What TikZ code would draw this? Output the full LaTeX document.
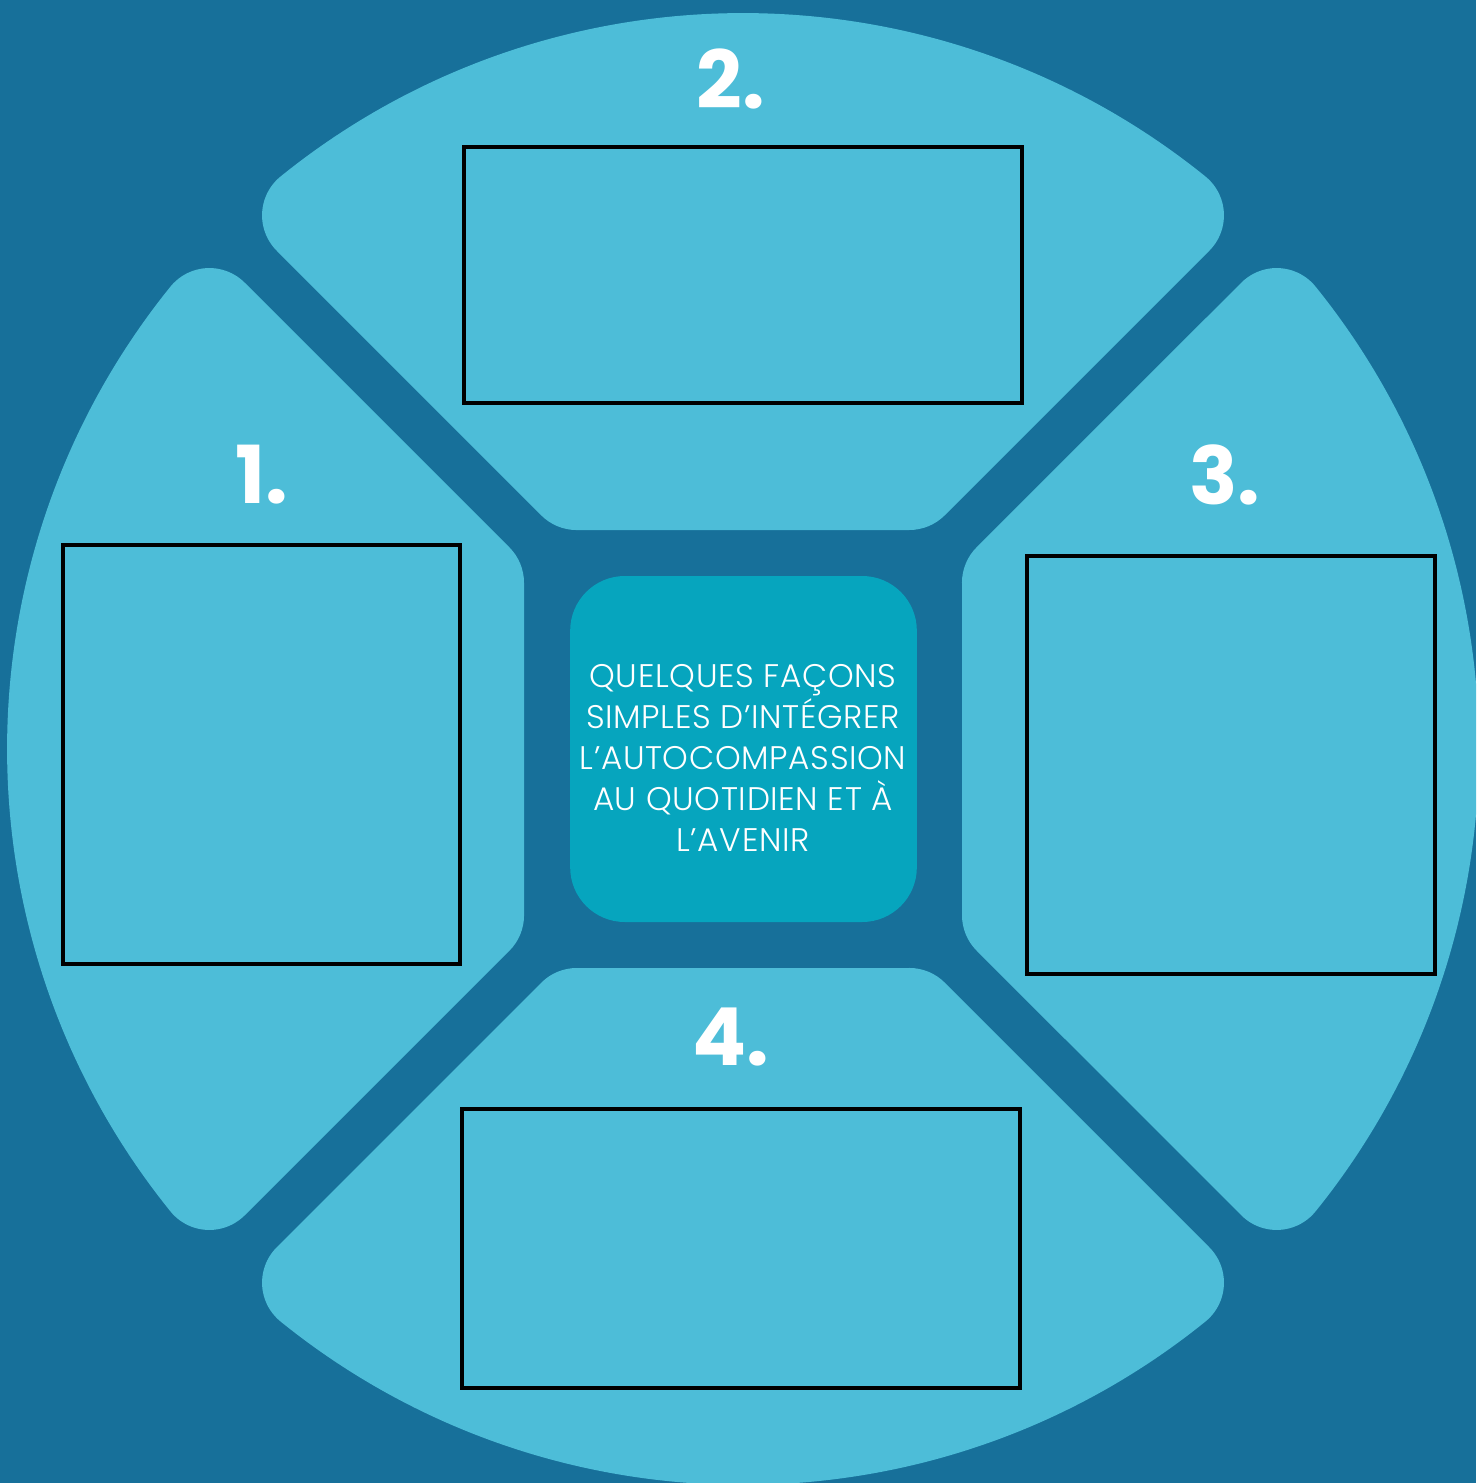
\documentclass[tikz,border=0pt]{standalone}
\usepackage{fontspec}
\setmainfont{Poppins}
\newfontfamily\hubfont{Poppins}[UprightFont=* Light,LetterSpace=2]
\definecolor{bgblue}{RGB}{23,112,154}
\definecolor{petalblue}{RGB}{77,189,216}
\definecolor{hubblue}{RGB}{6,165,190}

\begin{document}
\begin{tikzpicture}[x=0.75pt,y=0.75pt,yscale=-1,xscale=1,
  petal/.style={fill=petalblue},
  slot/.style={draw=black,line width=3pt,inner sep=0pt},
  num/.style={text=white,inner sep=0pt,font=\fontsize{60}{60}\selectfont\bfseries}]

\useasboundingbox (0,0) rectangle (1476,1483);
\fill[bgblue] (0,0) rectangle (1476,1483);
\clip (0,0) rectangle (1476,1483);

%Petals: one quarter of the disc, turned four times
\foreach \ang in {0,90,180,270}{
\begin{scope}[shift={(743,749)},yscale=-1,rotate=\ang]
\fill[petal] (-166.3,219) -- (166.3,219) arc[start angle=-90,end angle=-45,radius=50]
  -- (466.3,498.3) arc[start angle=-45,end angle=51.08,radius=50]
  arc[start angle=51.08,end angle=128.92,radius=736]
  arc[start angle=128.92,end angle=225,radius=50]
  -- (-201.7,233.6) arc[start angle=225,end angle=270,radius=50] -- cycle;
\end{scope}
}

%Centre square
\node[fill=hubblue,rounded corners=41pt,minimum width=260pt,minimum height=259.5pt] (hub) at (743.5,749) {};
% Text Node
\node[text=white,align=center,inner sep=0pt,font=\hubfont\fontsize{24.5}{30.75}\selectfont] (hubtext) at (743,758) {QUELQUES FAÇONS\\SIMPLES D’INTÉGRER\\L’AUTOCOMPASSION\\AU QUOTIDIEN ET À\\L’AVENIR};

%Empty boxes
\node[slot,minimum width=418.5pt,minimum height=192pt] (box2) at (743,275) {};
\node[slot,minimum width=297.75pt,minimum height=314.25pt] (box1) at (261.5,754.5) {};
\node[slot,minimum width=306pt,minimum height=313.5pt] (box3) at (1231,765) {};
\node[slot,minimum width=418.5pt,minimum height=209.25pt] (box4) at (741,1248.5) {};

% Numbers
\node[num] (num1) at (262,475) {1.};
\node[num] (num2) at (731,79) {2.};
\node[num] (num3) at (1225,475) {3.};
\node[num] (num4) at (731,1037) {4.};

\end{tikzpicture}
\end{document}
